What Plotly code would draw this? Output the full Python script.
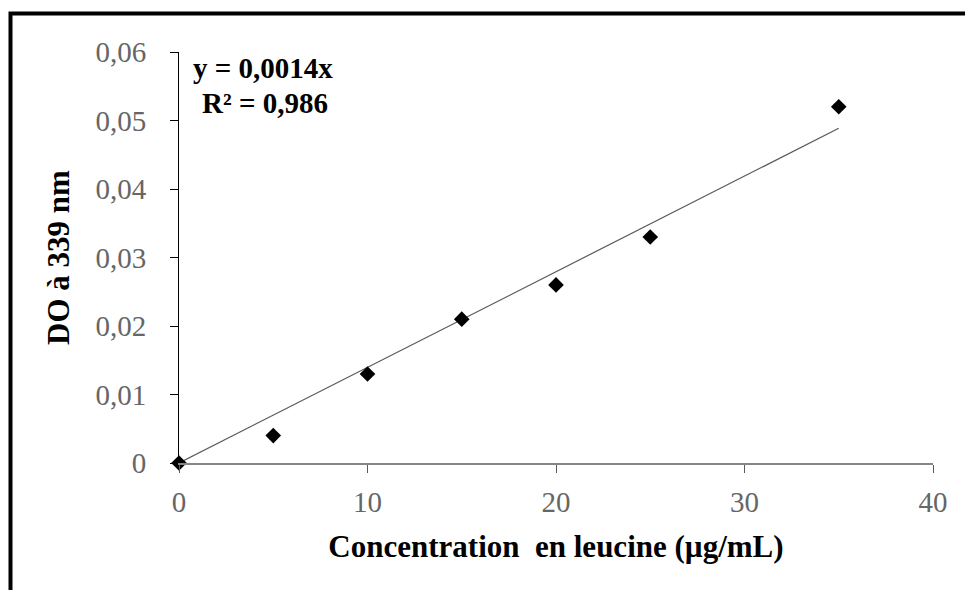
import plotly.graph_objects as go

# ---- data ----
concentration = [0, 5, 10, 15, 20, 25, 35]          # µg/mL
absorbance = [0.0, 0.004, 0.013, 0.021, 0.026, 0.033, 0.052]  # DO à 339 nm
x_tickvals = [0, 10, 20, 30, 40]
x_ticktext = ["0", "10", "20", "30", "40"]
y_tickvals = [0, 0.01, 0.02, 0.03, 0.04, 0.05, 0.06]
y_ticktext = ["0", "0,01", "0,02", "0,03", "0,04", "0,05", "0,06"]
equation_text = "y = 0,0014x"
r2_text = "R² = 0,986"
x_title = "Concentration  en leucine (µg/mL)"
y_title = "DO à 339 nm"

# linear trend through origin (least squares)
slope = sum(x * y for x, y in zip(concentration, absorbance)) / sum(x * x for x in concentration)
trend_x = [min(concentration), max(concentration)]
trend_y = [slope * v for v in trend_x]

W, H = 965, 590
L, R, T, B = 179, 32, 52, 127
pw, ph = W - L - R, H - T - B

def px(xp):
    return (xp - L) / pw

def py(yp):
    return (H - B - yp) / ph

FONT = "Liberation Serif"

fig = go.Figure()
fig.add_trace(go.Scatter(x=trend_x, y=trend_y, mode="lines",
                         line=dict(color="#595959", width=1.2),
                         showlegend=False, hoverinfo="skip", cliponaxis=False))
fig.add_trace(go.Scatter(x=concentration, y=absorbance, mode="markers",
                         marker=dict(symbol="diamond", size=12, color="black"),
                         showlegend=False, cliponaxis=False))

fig.update_layout(
    width=W, height=H,
    margin=dict(l=L, r=R, t=T, b=B),
    paper_bgcolor="white", plot_bgcolor="white",
    font=dict(family=FONT, color="#666666", size=29),
    xaxis=dict(range=[0, 40], tickvals=x_tickvals, ticktext=x_ticktext,
               showgrid=False, zeroline=False, showline=True,
               linecolor="#868686", linewidth=1.5,
               ticks="outside", ticklen=8, tickcolor="#595959", tickwidth=1.2,
               ticklabelstandoff=4,
               tickfont=dict(family=FONT, size=29, color="#666666"),
               title=dict(text="<b>" + x_title + "</b>", standoff=19,
                          font=dict(family=FONT, size=31, color="black"))),
    yaxis=dict(range=[0, 0.06], tickvals=y_tickvals, ticktext=y_ticktext,
               showgrid=False, zeroline=False, showline=True,
               linecolor="black", linewidth=1,
               ticks="outside", ticklen=8, tickcolor="black", tickwidth=1,
               ticklabelstandoff=18,
               tickfont=dict(family=FONT, size=29, color="#666666"),
               title=dict(text="<b>" + y_title + "</b>", standoff=16,
                          font=dict(family=FONT, size=31, color="black"))),
    shapes=[dict(type="path", xref="paper", yref="paper",
                 path=f"M {px(10.5)},{py(600)} L {px(10.5)},{py(13.5)} L {px(975)},{py(13.5)}",
                 line=dict(color="black", width=4))],
    annotations=[
        dict(xref="paper", yref="paper", x=px(263), y=py(68), text="<b>" + equation_text + "</b>",
             showarrow=False, xanchor="center", yanchor="middle",
             font=dict(family=FONT, size=29, color="black")),
        dict(xref="paper", yref="paper", x=px(265), y=py(103), text="<b>" + r2_text + "</b>",
             showarrow=False, xanchor="center", yanchor="middle",
             font=dict(family=FONT, size=29, color="black")),
    ],
)

fig.write_html("out.html")
